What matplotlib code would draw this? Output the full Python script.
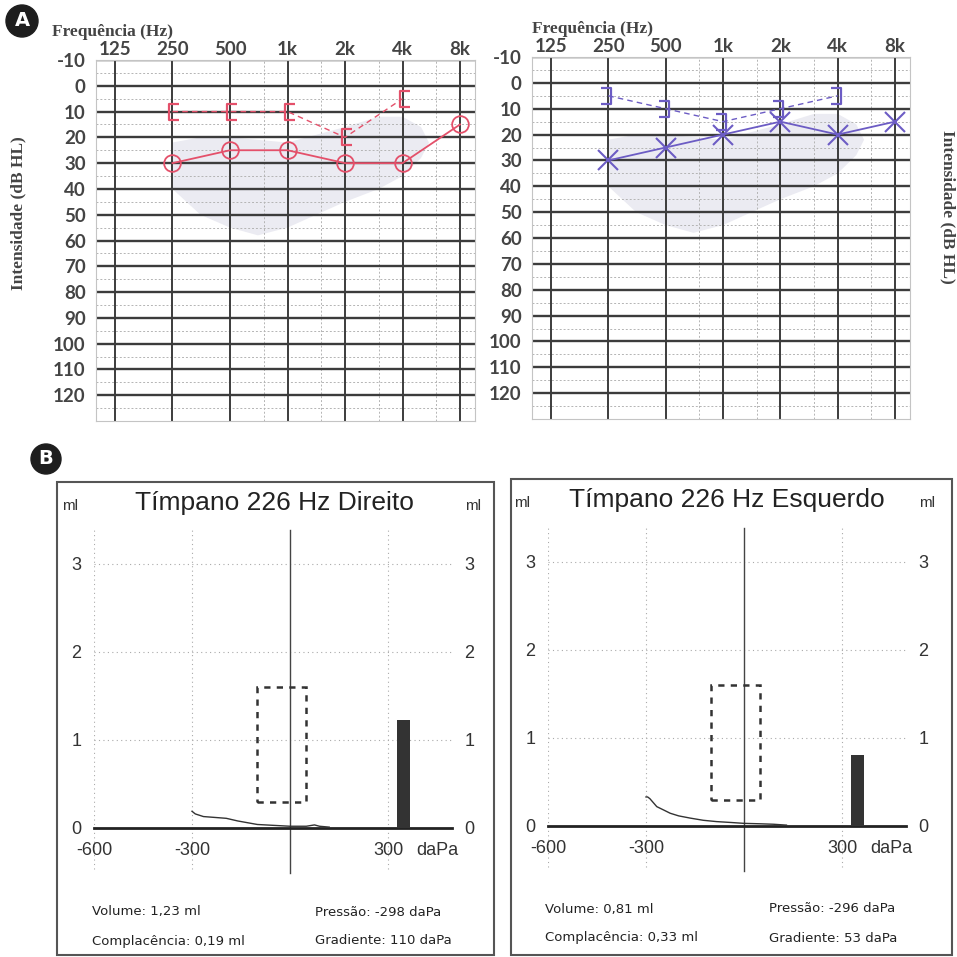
import numpy as np
import matplotlib.pyplot as plt
from matplotlib.patches import Rectangle, Circle
from matplotlib.path import Path

W = 957  # tamanho da figura em pixels

# ---------------- audiometria ----------------
freq_ticks = [125, 250, 500, 1000, 2000, 4000, 8000]
freq_labels = ['125', '250', '500', '1k', '2k', '4k', '8k']
mid_freqs = [750, 1500, 3000, 6000]
db_ticks = list(range(-10, 121, 10))

air_freq = [250, 500, 1000, 2000, 4000, 8000]
air_right = [30, 25, 25, 30, 30, 15]      # orelha direita (O)
air_left = [30, 25, 20, 15, 20, 15]       # orelha esquerda (X)
bone_freq = [250, 500, 1000, 2000, 4000]
bone_right = [10, 10, 10, 20, 5]          # [
bone_left = [5, 10, 15, 10, 5]            # ]

# area sombreada (banana da fala)
banana_f = [250, 350, 500, 1000, 2000, 3000, 4000, 5000, 5500, 5000, 4000, 3000, 2000, 1000, 700, 500, 350, 250]
banana_db = [22, 20, 20, 22, 16, 12, 12, 16, 22, 28, 35, 40, 45, 55, 58, 55, 50, 40]

# ---------------- timpanometria ----------------
p_right = [-300, -290, -265, -230, -195, -160, -130, -100, -50, 0, 50, 75, 90, 120]
c_right = [0.19, 0.16, 0.13, 0.12, 0.11, 0.08, 0.06, 0.04, 0.03, 0.02, 0.02, 0.035, 0.02, 0.01]
p_left = [-300, -295, -288, -267, -245, -226, -200, -165, -125, -84, -40, 0, 50, 90, 130]
c_left = [0.33, 0.33, 0.31, 0.22, 0.18, 0.145, 0.115, 0.09, 0.065, 0.05, 0.04, 0.03, 0.025, 0.02, 0.01]
vol_right = 1.23
vol_left = 0.81
stats_right = ['Volume: 1,23 ml', 'Complacência: 0,19 ml', 'Pressão: -298 daPa', 'Gradiente: 110 daPa']
stats_left = ['Volume: 0,81 ml', 'Complacência: 0,33 ml', 'Pressão: -296 daPa', 'Gradiente: 53 daPa']
tymp_xticks = [-600, -300, 300]
tymp_yticks = [0, 1, 2, 3]

red = '#e4506a'
blue = '#6c5cc4'

# marcadores de colchete (via ossea)
open_br = Path([(0.8, 1), (-0.4, 1), (-0.4, -1), (0.8, -1)],
               [Path.MOVETO, Path.LINETO, Path.LINETO, Path.LINETO])
close_br = Path([(-0.8, 1), (0.4, 1), (0.4, -1), (-0.8, -1)],
                [Path.MOVETO, Path.LINETO, Path.LINETO, Path.LINETO])


def fx(px):
    return px / W


def fy(py):
    return 1 - py / W


def rect_px(x0, y0, x1, y1):
    return [fx(x0), fy(y1), (x1 - x0) / W, (y1 - y0) / W]


fig = plt.figure(figsize=(W / 100, W / 100), dpi=100)


def audiogram(x0, y0, x1, y1):
    ax = fig.add_axes(rect_px(x0, y0, x1, y1))
    ax.set_xscale('log', base=2)
    ax.set_xlim(125 * 2 ** -0.33, 8000 * 2 ** 0.26)
    ax.set_ylim(130, -10)
    ax.fill(banana_f, banana_db, color='#ebebf2', lw=0, zorder=0)
    for d in range(-5, 130, 10):
        ax.axhline(d, color='#b4b4b4', lw=0.7, ls=(0, (2, 2)), zorder=1)
    for f in mid_freqs:
        ax.axvline(f, color='#b4b4b4', lw=0.7, ls=(0, (2, 2)), zorder=1)
    for d in db_ticks:
        ax.axhline(d, color='#3c3c3c', lw=1.7 if d >= 0 else 1.0, zorder=2)
    for f in freq_ticks:
        ax.axvline(f, color='#3c3c3c', lw=1.4, zorder=2)
    ax.minorticks_off()
    ax.xaxis.tick_top()
    ax.set_xticks(freq_ticks, freq_labels, fontfamily='Lato', fontweight='bold')
    ax.set_yticks(db_ticks, [str(d) for d in db_ticks], fontfamily='Lato', fontweight='bold')
    ax.tick_params(axis='x', length=0, pad=1.5, labelsize=13.5, labelcolor='#444')
    ax.tick_params(axis='y', length=0, pad=7.5, labelsize=13.5, labelcolor='#444')
    for s in ax.spines.values():
        s.set_color('#c4c4c4')
        s.set_linewidth(0.8)
    return ax


# ---- A: audiogramas ----
axR = audiogram(96, 60, 475, 421)
axR.plot(air_freq, air_right, color=red, lw=1.3, marker='o', ms=12, mfc='none', mew=1.3, zorder=5)
axR.plot(bone_freq, bone_right, color=red, lw=1.0, ls=(0, (4, 3)), zorder=5)
axR.plot(bone_freq, bone_right, ls='none', marker=open_br, ms=12, mfc='none', mec=red, mew=1.6, zorder=5)

axL = audiogram(532, 57, 910, 419)
axL.plot(air_freq, air_left, color=blue, lw=1.3, marker='x', ms=14, mew=1.5, zorder=5)
axL.plot(bone_freq, bone_left, color=blue, lw=1.0, ls=(0, (4, 3)), zorder=5)
axL.plot(bone_freq, bone_left, ls='none', marker=close_br, ms=12, mfc='none', mec=blue, mew=1.6, zorder=5)

serif = dict(family='Liberation Serif', weight='bold', size=12.5, color='#444')
fig.text(fx(52), fy(32), 'Frequência (Hz)', ha='left', va='center', **serif)
fig.text(fx(532), fy(29), 'Frequência (Hz)', ha='left', va='center', **serif)
fig.text(fx(18), fy(213), 'Intensidade (dB HL)', ha='center', va='center', rotation=90, **serif)
fig.text(fx(948), fy(207), 'Intensidade (dB HL)', ha='center', va='center', rotation=270, **serif)


def badge(cx, cy, r, letter):
    fig.add_artist(Circle((fx(cx), fy(cy)), r / W, transform=fig.transFigure, color='#1e1e1e'))
    fig.text(fx(cx), fy(cy), letter, ha='center', va='center', color='white',
             fontsize=14, fontweight='bold', family='DejaVu Sans')


badge(22, 21, 16, 'A')
badge(46, 459, 15, 'B')


# ---- B: timpanogramas ----
S = 98 / 300   # px por daPa
M = 88         # px por ml


def tympanogram(box, zx, zy, title, tx, ml_x, pressure, compliance, volume, stats, sx):
    bx0, by0, bx1, by1 = box
    fig.add_artist(Rectangle((fx(bx0), fy(by1)), (bx1 - bx0) / W, (by1 - by0) / W,
                             transform=fig.transFigure, fill=False, ec='#555', lw=1.5))
    ax = fig.add_axes(rect_px(zx - 600 * S, zy - 3.45 * M, zx + 495 * S, zy + 0.55 * M))
    ax.set_xlim(-600, 495)
    ax.set_ylim(-0.55, 3.45)
    for v in tymp_yticks[1:]:
        ax.axhline(v, color='#aaa', lw=0.8, ls=(0, (1, 3)), zorder=1)
    for v in tymp_xticks:
        ax.axvline(v, ymin=0.02, ymax=0.985, color='#aaa', lw=0.8, ls=(0, (1, 3)), zorder=1)
    ax.axvline(0, ymin=0.01, ymax=0.985, color='#444', lw=1.0, zorder=2)
    ax.add_patch(Rectangle((-100, 0.3), 150, 1.3, fill=False, ec='#333', lw=1.8,
                           ls=(0, (2.5, 2.5)), zorder=3))
    ax.bar(347, volume, width=40, color='#333', zorder=3)
    ax.plot(pressure, compliance, color='#333', lw=1.0, zorder=4)
    for s in ['top', 'left', 'right']:
        ax.spines[s].set_visible(False)
    ax.spines['bottom'].set_position(('data', 0))
    ax.spines['bottom'].set_color('#222')
    ax.spines['bottom'].set_linewidth(2.0)
    ax.set_xticks(tymp_xticks, [str(v) for v in tymp_xticks])
    ax.set_yticks(tymp_yticks, [str(v) for v in tymp_yticks])
    ax.tick_params(axis='x', length=0, pad=10, labelsize=13, labelcolor='#333')
    ax.tick_params(axis='y', length=0, pad=9, labelsize=13, labelcolor='#333',
                   labelleft=True, labelright=True)
    for lbl in ax.get_xticklabels() + ax.get_yticklabels():
        lbl.set_fontfamily('Liberation Sans')
    ax.annotate('daPa', xy=(450, 0), xytext=(0, -10), textcoords='offset points',
                ha='center', va='top', fontsize=13, color='#333', family='Liberation Sans')
    ax.patch.set_alpha(0)

    fig.text(fx(tx), fy(by0 + 21), title, ha='center', va='center', fontsize=19,
             color='#222', family='Liberation Sans')
    for mx in ml_x:
        fig.text(fx(mx), fy(by0 + 24), 'ml', ha='center', va='center', fontsize=11,
                 color='#333', family='Liberation Sans')
    st = dict(fontsize=9.5, color='#222', family='DejaVu Sans', ha='left', va='center')
    fig.text(fx(sx[0]), fy(by0 + 430), stats[0], **st)
    fig.text(fx(sx[0]), fy(by0 + 459), stats[1], **st)
    fig.text(fx(sx[1]), fy(by0 + 430), stats[2], **st)
    fig.text(fx(sx[1]), fy(by0 + 459), stats[3], **st)
    return ax


tympanogram((57, 482, 494, 955), 290, 828, 'Tímpano 226 Hz Direito', 274, (70, 473),
            p_right, c_right, vol_right, stats_right, (92, 315))
tympanogram((511, 479, 952, 955), 744, 826, 'Tímpano 226 Hz Esquerdo', 727, (522, 927),
            p_left, c_left, vol_left, stats_left, (545, 769))

fig.savefig('out.png', dpi=100, facecolor='white')
